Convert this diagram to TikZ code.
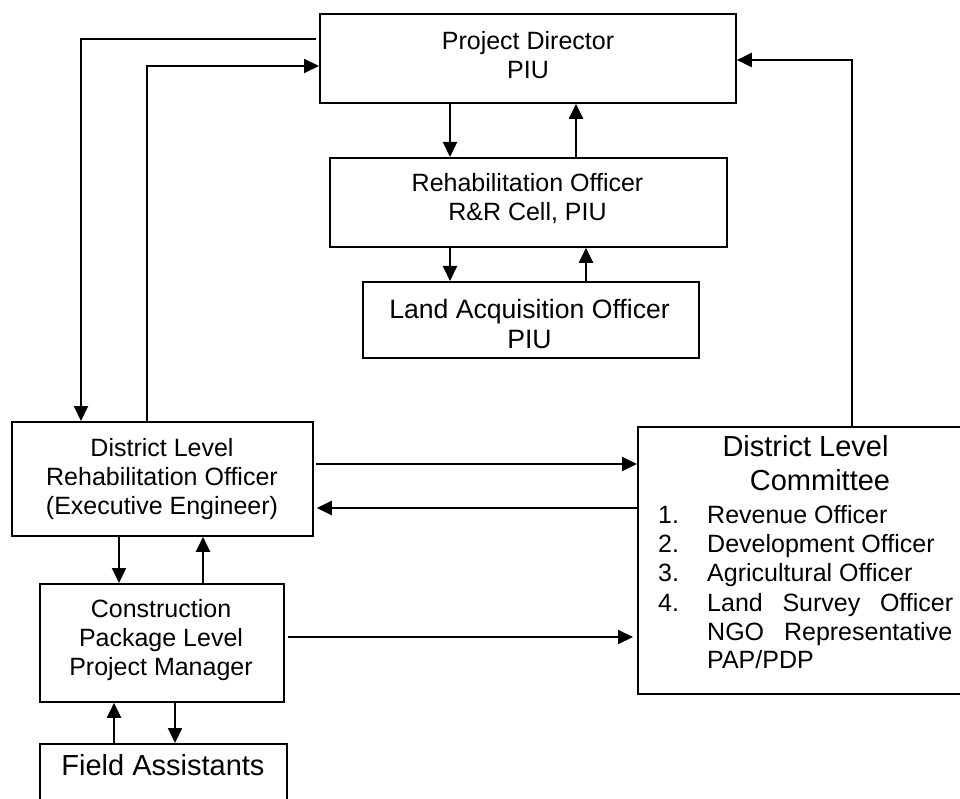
\documentclass[tikz,border=0pt]{standalone}
\usepackage{fontspec}
\setmainfont{Liberation Sans}
\usetikzlibrary{arrows.meta}
\tikzset{
  box/.style={draw=black, line width=1.8pt, rectangle, inner sep=0pt, anchor=north west},
  txt/.style={inner sep=0pt, align=center, font=\fontsize{25}{29}\selectfont},
  bigtxt/.style={inner sep=0pt, align=center, font=\fontsize{29}{34}\selectfont, text height=0.72em, text depth=0pt},
  midtxt/.style={inner sep=0pt, align=center, font=\fontsize{26.6}{30}\selectfont},
  item/.style={inner sep=0pt, anchor=west, font=\fontsize{25}{29}\selectfont, text height=0.72em, text depth=0pt},
  arr/.style={line width=2pt, -{Triangle[length=15pt,width=14pt]}}
}
\begin{document}
\begin{tikzpicture}[x=1pt,y=-1pt]
\useasboundingbox (0,0) rectangle (960,799);
\path[clip] (0,0) rectangle (960,799);
\fill[white] (0,0) rectangle (960,799);
% boxes
\node[box, minimum width=416pt, minimum height=89pt] (pd) at (319,13) {};
\node[box, minimum width=397pt, minimum height=89pt] (ro) at (329,157) {};
\node[box, minimum width=336pt, minimum height=76pt] (lao) at (362,281) {};
\node[box, minimum width=301pt, minimum height=114pt] (dlro) at (11,421) {};
\node[box, minimum width=244pt, minimum height=118pt] (cpm) at (39,583) {};
\node[box, minimum width=247pt, minimum height=100pt] (fa) at (39,743) {};
\node[box, minimum width=340pt, minimum height=267pt] (dlc) at (637,426) {};
% texts
\node[txt] (pdt) at (528,55) {Project Director\\PIU};
\node[txt] (rot) at (527.5,199) {Rehabilitation Officer\\R\&R Cell, PIU};
\node[midtxt] (laot) at (529.5,324) {Land Acquisition Officer\\PIU};
\node[txt] (dlrot) at (162,479) {District Level\\Rehabilitation Officer\\(Executive Engineer)};
\node[txt] (cpmt) at (161,640.5) {Construction\\Package Level\\Project Manager};
\node[bigtxt] (fat) at (163,772) {Field Assistants};
\node[bigtxt] (dlct1) at (805.5,453) {District Level};
\node[bigtxt] (dlct2) at (820,487) {Committee};
\node[item] (n1) at (658,520) {1.};
\node[item] (n2) at (658,549) {2.};
\node[item] (n3) at (658,578) {3.};
\node[item] (n4) at (658,608) {4.};
\node[item] (i1) at (707,520) {Revenue Officer};
\node[item] (i2) at (707,549) {Development Officer};
\node[item] (i3) at (707,578) {Agricultural Officer};
\node[item] (i4) at (707,608) {\makebox[246pt][s]{Land Survey Officer}};
\node[item] (i5) at (707,637) {\makebox[245pt][s]{NGO Representative}};
\node[item] (i6) at (707,665) {PAP/PDP};
% connectors
\draw[arr] ([xshift=-3pt]pd.west |- 0,39) -| (81,0 |- dlro.north);
\draw[arr] (147,0 |- dlro.north) |- (pd.west |- 0,66);
\draw[arr] (450,0 |- pd.south) -- (450,0 |- ro.north);
\draw[arr] (576,0 |- ro.north) -- (576,0 |- pd.south);
\draw[arr] (450,0 |- ro.south) -- (450,0 |- lao.north);
\draw[arr] (586,0 |- lao.north) -- (586,0 |- ro.south);
\draw[arr] (852,0 |- dlc.north) |- (pd.east |- 0,60);
\draw[arr] ([xshift=2pt]dlro.east |- 0,464) -- (dlc.west |- 0,464);
\draw[arr] (dlc.west |- 0,508) -- ([xshift=3pt]dlro.east |- 0,508);
\draw[arr] (119,0 |- dlro.south) -- (119,0 |- cpm.north);
\draw[arr] (203,0 |- cpm.north) -- (203,0 |- dlro.south);
\draw[arr, shorten >=4pt] ([xshift=3pt]cpm.east |- 0,637) -- (dlc.west |- 0,637);
\draw[arr] (114,0 |- fa.north) -- (114,0 |- cpm.south);
\draw[arr] (175,0 |- cpm.south) -- (175,0 |- fa.north);
\end{tikzpicture}
\end{document}
